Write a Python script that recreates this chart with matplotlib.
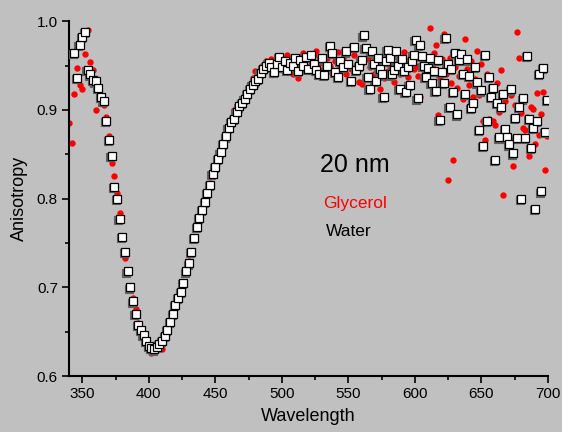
import matplotlib
matplotlib.use("Agg")
import matplotlib.pyplot as plt
import matplotlib.transforms as mtransforms
from matplotlib.ticker import MultipleLocator, FormatStrFormatter
import numpy as np

# wavelength grids (nm): 2 nm steps through the dip, 1.5 nm steps in the noisy tail
water_nm = np.concatenate([np.arange(344, 560, 2), np.arange(560, 700.1, 1.5)])
glycerol_nm = np.concatenate([np.arange(340, 560, 2), np.arange(560, 700.1, 1.5)])

water_head = [
    0.964, 0.936, 0.973, 0.982, 0.988, 0.945, 0.940, 0.934, 0.932, 0.925,  # 344-362
    0.915, 0.910, 0.888, 0.866, 0.848, 0.813, 0.800, 0.777, 0.757, 0.740,  # 364-382
    0.718, 0.700, 0.684, 0.670, 0.658, 0.652, 0.646, 0.640, 0.634, 0.632,  # 384-402
    0.630, 0.633, 0.636, 0.640, 0.645, 0.652, 0.661, 0.670, 0.680, 0.688,  # 404-422
    0.695, 0.705, 0.718, 0.727, 0.740, 0.756, 0.768, 0.778, 0.787, 0.796,  # 424-442
    0.806, 0.815, 0.828, 0.836, 0.845, 0.852, 0.862, 0.870, 0.880, 0.886,  # 444-462
    0.890, 0.898, 0.904, 0.908, 0.912, 0.918, 0.924, 0.928, 0.932, 0.935,  # 464-482
    0.942, 0.946, 0.950, 0.953, 0.948, 0.943, 0.952, 0.960, 0.948, 0.955,  # 484-502
    0.945, 0.953, 0.950, 0.958, 0.944, 0.956, 0.950, 0.960, 0.946, 0.962,  # 504-522
    0.952, 0.945, 0.941, 0.958, 0.939, 0.950, 0.972, 0.964, 0.943, 0.937,  # 524-542
    0.955, 0.948, 0.966, 0.952, 0.933, 0.971, 0.945, 0.950,                # 544-558
]
water_tail = [
    0.956, 0.984, 0.970, 0.937, 0.924, 0.966, 0.952, 0.933, 0.958, 0.946,
    0.940, 0.915, 0.955, 0.968, 0.958, 0.940, 0.945, 0.966, 0.950, 0.924,
    0.957, 0.944, 0.920, 0.948, 0.928, 0.955, 0.962, 0.979, 0.913, 0.973,
    0.961, 0.950, 0.937, 0.947, 0.958, 0.930, 0.944, 0.921, 0.956, 0.889,
    0.943, 0.930, 0.981, 0.952, 0.903, 0.946, 0.920, 0.964, 0.895, 0.956,
    0.963, 0.941, 0.918, 0.957, 0.938, 0.902, 0.908, 0.948, 0.931, 0.877,
    0.922, 0.859, 0.962, 0.888, 0.937, 0.915, 0.925, 0.844, 0.908, 0.869,
    0.903, 0.918, 0.879, 0.869, 0.861, 0.923, 0.851, 0.891, 0.868, 0.903,
    0.800, 0.913, 0.868, 0.961, 0.890, 0.857, 0.880, 0.788, 0.888, 0.941,
    0.808, 0.947, 0.875, 0.911,
]

glycerol_head = [
    0.885, 0.863, 0.918, 0.947, 0.928, 0.923, 0.963, 0.990, 0.954, 0.945,  # 340-358
    0.900, 0.924, 0.915, 0.905, 0.892, 0.870, 0.840, 0.825, 0.806, 0.784,  # 360-378
    0.755, 0.733, 0.717, 0.700, 0.688, 0.676, 0.660, 0.650, 0.643, 0.636,  # 380-398
    0.630, 0.626, 0.628, 0.630, 0.632, 0.630, 0.642, 0.649, 0.660, 0.670,  # 400-418
    0.679, 0.690, 0.700, 0.706, 0.718, 0.730, 0.740, 0.756, 0.770, 0.780,  # 420-438
    0.790, 0.798, 0.808, 0.818, 0.828, 0.838, 0.846, 0.853, 0.862, 0.870,  # 440-458
    0.880, 0.888, 0.900, 0.902, 0.906, 0.910, 0.914, 0.920, 0.925, 0.936,  # 460-478
    0.944, 0.940, 0.948, 0.951, 0.955, 0.950, 0.957, 0.954, 0.960, 0.952,  # 480-498
    0.958, 0.948, 0.962, 0.944, 0.941, 0.955, 0.936, 0.960, 0.964, 0.950,  # 500-518
    0.957, 0.946, 0.962, 0.966, 0.953, 0.945, 0.960, 0.958, 0.950, 0.942,  # 520-538
    0.955, 0.965, 0.948, 0.958, 0.940, 0.953, 0.946, 0.962, 0.950, 0.931,  # 540-558
]
glycerol_tail = [
    0.929, 0.955, 0.970, 0.958, 0.948, 0.962, 0.940, 0.956, 0.945, 0.924,
    0.951, 0.936, 0.962, 0.944, 0.950, 0.958, 0.931, 0.947, 0.960, 0.940,
    0.952, 0.965, 0.944, 0.937, 0.955, 0.960, 0.946, 0.950, 0.938, 0.915,
    0.952, 0.941, 0.958, 0.944, 0.992, 0.950, 0.964, 0.973, 0.894, 0.935,
    0.957, 0.985, 0.941, 0.821, 0.959, 0.930, 0.843, 0.948, 0.925, 0.938,
    0.955, 0.912, 0.980, 0.946, 0.928, 0.955, 0.915, 0.935, 0.966, 0.917,
    0.952, 0.887, 0.866, 0.940, 0.890, 0.918, 0.888, 0.883, 0.930, 0.898,
    0.945, 0.804, 0.910, 0.870, 0.925, 0.917, 0.837, 0.905, 0.988, 0.958,
    0.896, 0.880, 0.877, 0.892, 0.848, 0.903, 0.901, 0.862, 0.919, 0.872,
    0.895, 0.920, 0.832, 0.871,
]

water = np.array(water_head + water_tail)
glycerol = np.array(glycerol_head + glycerol_tail)

bg = "#c0c0c0"
plt.rcParams["font.family"] = ["Liberation Sans", "DejaVu Sans"]

fig = plt.figure(figsize=(5.62, 4.32), dpi=100, facecolor=bg)
ax = fig.add_axes([0.1228, 0.1296, 0.8522, 0.8214], facecolor=bg)

ax.plot(glycerol_nm, glycerol, "o", ms=4.6, mfc="#ff0000", mec="none", zorder=2)

# grey drop shadow under each square
shadow = mtransforms.offset_copy(ax.transData, fig=fig, x=-1.2, y=-1.2, units="dots")
ax.plot(water_nm, water, "s", ms=6.0, mfc="#606060", mec="#606060", mew=0.8,
        transform=shadow, zorder=3)
ax.plot(water_nm, water, "s", ms=6.0, mfc="white", mec="black", mew=0.9, zorder=4)

ax.text(529, 0.838, "20 nm", fontsize=18, color="black", va="center")
ax.text(531, 0.795, "Glycerol", fontsize=12.5, color="#ff0000", va="center")
ax.text(533, 0.763, "Water", fontsize=12.5, color="black", va="center")

ax.set_xlim(340, 700)
ax.set_ylim(0.6, 1.0)
ax.xaxis.set_major_locator(MultipleLocator(50))
ax.xaxis.set_minor_locator(MultipleLocator(25))
ax.yaxis.set_major_locator(MultipleLocator(0.1))
ax.yaxis.set_minor_locator(MultipleLocator(0.05))
ax.yaxis.set_major_formatter(FormatStrFormatter("%.1f"))

for side in ("top", "right"):
    ax.spines[side].set_visible(False)
for side in ("left", "bottom"):
    ax.spines[side].set_linewidth(1.5)

ax.tick_params(which="major", direction="out", length=5, width=1.2, labelsize=11, pad=3)
ax.tick_params(which="minor", direction="out", length=3, width=1.2)

ax.set_xlabel("Wavelength", fontsize=13, labelpad=5)
ax.set_ylabel("Anisotropy", fontsize=13, labelpad=6)

fig.savefig("out.png", dpi=100, facecolor=bg)
